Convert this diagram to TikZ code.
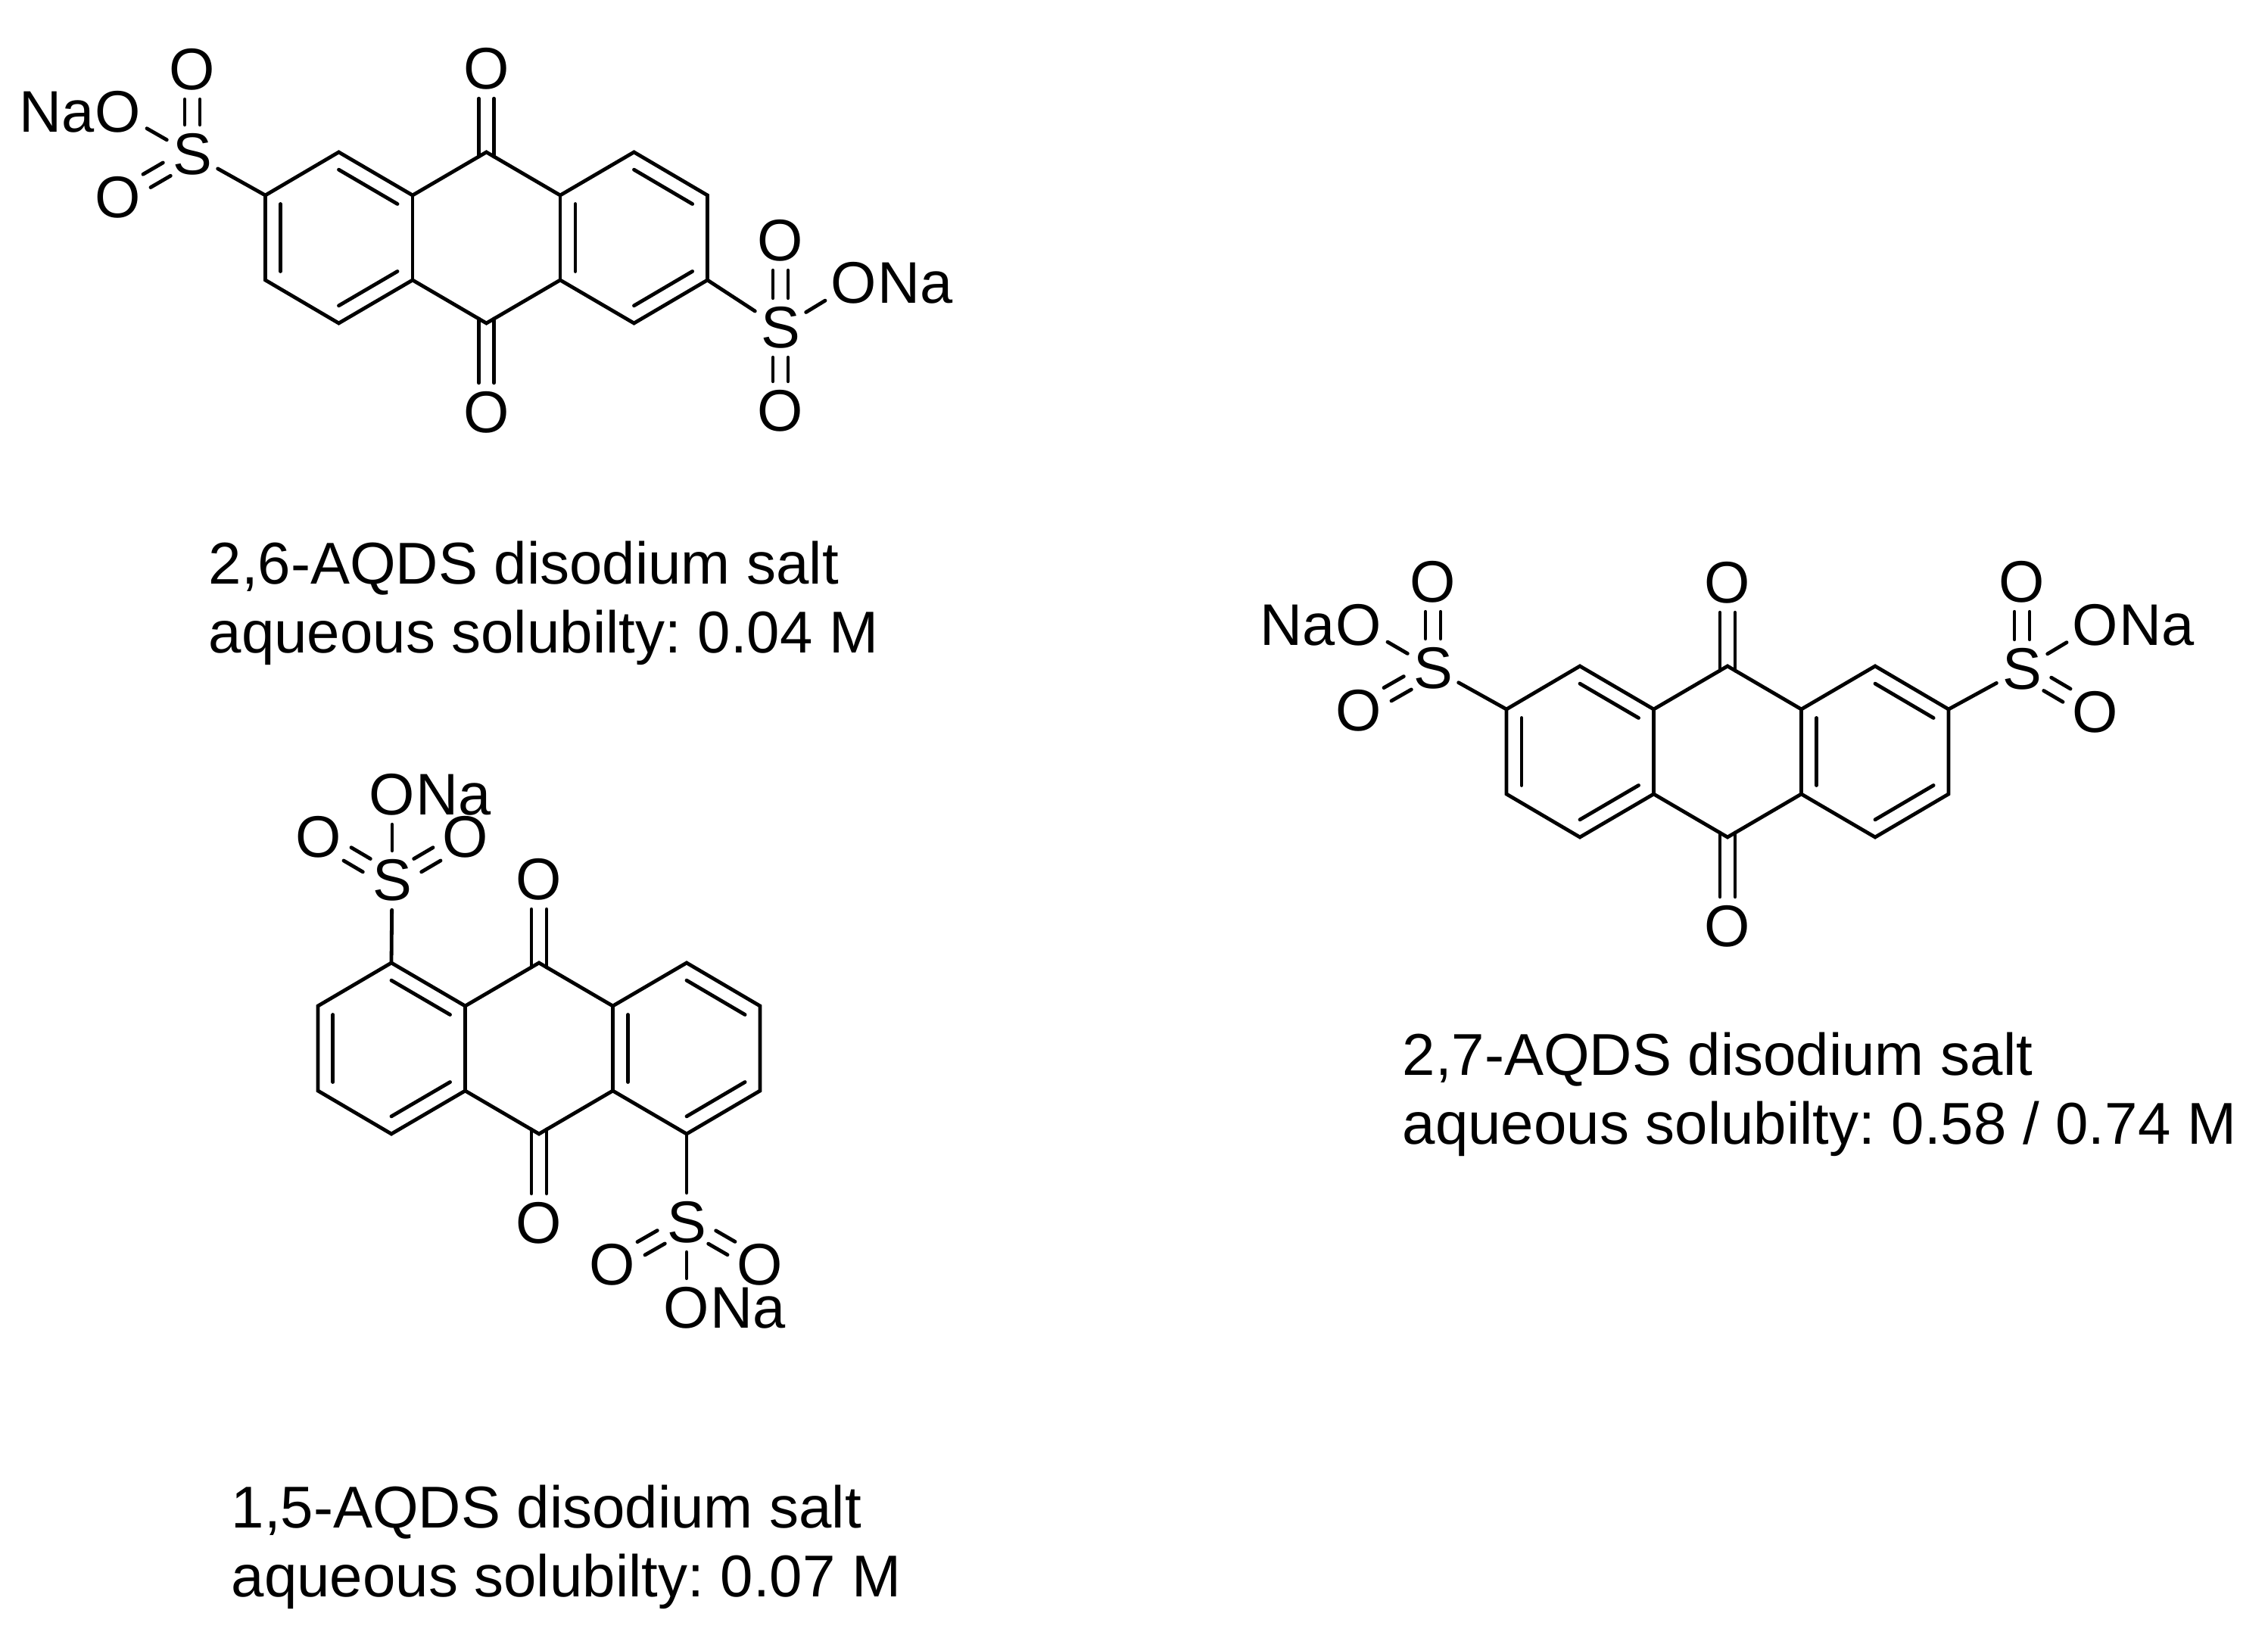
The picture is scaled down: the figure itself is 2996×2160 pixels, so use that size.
\documentclass[tikz,border=0pt]{standalone}
\usepackage{fontspec}
\setmainfont{Liberation Sans}
\frenchspacing
\usetikzlibrary{calc}
\tikzset{
    bond/.style={
        line width=1.2pt,
        line cap=round,
    },
    atom/.style={
        font=\fontsize{19.4}{23}\selectfont,
        inner xsep=1.75pt,
        inner ysep=2.9pt,
        text height=13.4pt,
        text depth=0pt,
    },
    natail/.style={
        atom,
        inner xsep=0pt,
        anchor=west,
        xshift=-1.75pt,
    },
    nahead/.style={
        atom,
        inner xsep=0pt,
        anchor=east,
        xshift=1.75pt,
    },
    caption/.style={
        font=\fontsize{19.5}{22.8}\selectfont,
        align=left,
        inner sep=0pt,
        anchor=west,
    },
    offs/.style={
        transform canvas={shift={(#1:2.5pt)}},
    },
}
% two parallel strokes between named atoms, #3 = direction of the offset
\newcommand{\dblbond}[3]{
    \draw[bond, offs=#3] (#1) -- (#2);
    \pgfmathsetmacro{\backang}{#3+180}
    \draw[bond, offs=\backang] (#1) -- (#2);
}
\newcommand{\ketobond}[2]{
    \draw[bond, shorten >=-1.5pt, offs=0] (#1) -- (#2);
    \draw[bond, shorten >=-1.5pt, offs=180] (#1) -- (#2);
}
% inner stroke of a ring double bond
\newcommand{\ringbond}[3]{
    \draw[bond] ($(#1)!.205!(#3)$) -- ($(#2)!.205!(#3)$);
}
% anthraquinone skeleton: #1 name prefix, #2 #3 centre
\newcommand{\aqcore}[3]{
    \foreach \nm/\dx/\dy in {T1/-195/-113, T2/0/-113, T3/195/-113,
                             U0/-292/-56, U1/-97.5/-56, U2/97.5/-56, U3/292/-56,
                             L0/-292/56, L1/-97.5/56, L2/97.5/56, L3/292/56,
                             B1/-195/113, B2/0/113, B3/195/113,
                             R1/-195/0, R3/195/0}
        \coordinate (#1\nm) at ({#2+\dx},{#3+\dy});

    \node[atom] (#1Otop) at (#2,{#3-223}) {O};
    \node[atom] (#1Obot) at (#2,{#3+231}) {O};
    \ketobond{#1Otop}{#1T2}
    \ketobond{#1Obot}{#1B2}

    \draw[bond] (#1T2) -- (#1U1) -- (#1T1) -- (#1U0) -- (#1L0) -- (#1B1) -- (#1L1) -- (#1B2)
        -- (#1L2) -- (#1B3) -- (#1L3) -- (#1U3) -- (#1T3) -- (#1U2) -- cycle;
    \draw[bond] (#1U1) -- (#1L1);
    \draw[bond] (#1U2) -- (#1L2);

    \ringbond{#1T1}{#1U1}{#1R1}
    \ringbond{#1U0}{#1L0}{#1R1}
    \ringbond{#1L1}{#1B1}{#1R1}
    \ringbond{#1T3}{#1U3}{#1R3}
    \ringbond{#1U2}{#1L2}{#1R3}
    \ringbond{#1L3}{#1B3}{#1R3}
}

\begin{document}
\begin{tikzpicture}[x=.25pt, y=-.25pt]
    \useasboundingbox (0,0) rectangle (2996,2160);

    % 2,6
    \aqcore{a}{642.5}{314}

    \node[atom] (aS1) at (254,204) {S};
    \node[atom] (aO1) at (254,92) {O};
    \node[atom] (aO2) at (156,148) {O};
    \node[atom] (aO3) at (156,261) {O};
    \node[nahead] (aNa1) at (aO2.west) {Na};
    \draw[bond] (aS1) -- (aU0);
    \draw[bond] (aS1) -- (aO2);
    \dblbond{aS1}{aO1}{0}
    \dblbond{aS1}{aO3}{120}

    \node[atom] (aS2) at (1031,433) {S};
    \node[atom] (aO4) at (1031,318) {O};
    \node[atom] (aO5) at (1128,374) {O};
    \node[atom] (aO6) at (1031,543) {O};
    \node[natail] (aNa2) at (aO5.east) {Na};
    \draw[bond] (aS2) -- (aL3);
    \draw[bond] (aS2) -- (aO5);
    \dblbond{aS2}{aO4}{0}
    \dblbond{aS2}{aO6}{0}

    \node[caption] (aText) at (275,797) {2,6-AQDS disodium salt\\aqueous solubilty: 0.04 M};

    % 1,5
    \aqcore{b}{712}{1385}

    \node[atom] (bS1) at (518,1163) {S};
    \node[atom] (bO1) at (518,1050) {O};
    \node[atom] (bO2) at (421,1106) {O};
    \node[atom] (bO3) at (615,1106) {O};
    \node[natail] (bNa1) at (bO1.east) {Na};
    \draw[bond] (bS1) -- (bT1);
    \draw[bond] (bS1) -- (bO1);
    \dblbond{bS1}{bO2}{60}
    \dblbond{bS1}{bO3}{120}

    \node[atom] (bS2) at (907,1615) {S};
    \node[atom] (bO4) at (907,1728) {O};
    \node[atom] (bO5) at (809,1671) {O};
    \node[atom] (bO6) at (1004,1671) {O};
    \node[natail] (bNa2) at (bO4.east) {Na};
    \draw[bond] (bS2) -- (bB3);
    \draw[bond] (bS2) -- (bO4);
    \dblbond{bS2}{bO5}{120}
    \dblbond{bS2}{bO6}{60}

    \node[caption] (bText) at (305,2044) {1,5-AQDS disodium salt\\aqueous solubilty: 0.07 M};

    % 2,7
    \aqcore{c}{2282}{993}

    \node[atom] (cS1) at (1893,883) {S};
    \node[atom] (cO1) at (1893,769) {O};
    \node[atom] (cO2) at (1795,826) {O};
    \node[atom] (cO3) at (1795,939) {O};
    \node[nahead] (cNa1) at (cO2.west) {Na};
    \draw[bond] (cS1) -- (cU0);
    \draw[bond] (cS1) -- (cO2);
    \dblbond{cS1}{cO1}{0}
    \dblbond{cS1}{cO3}{120}

    \node[atom] (cS2) at (2671,884) {S};
    \node[atom] (cO4) at (2671,769) {O};
    \node[atom] (cO5) at (2768,826) {O};
    \node[atom] (cO6) at (2768,941) {O};
    \node[natail] (cNa2) at (cO5.east) {Na};
    \draw[bond] (cS2) -- (cU3);
    \draw[bond] (cS2) -- (cO5);
    \dblbond{cS2}{cO4}{0}
    \dblbond{cS2}{cO6}{60}

    \node[caption] (cText) at (1852,1446) {2,7-AQDS disodium salt\\aqueous solubilty: 0.58 / 0.74 M};
\end{tikzpicture}
\end{document}
